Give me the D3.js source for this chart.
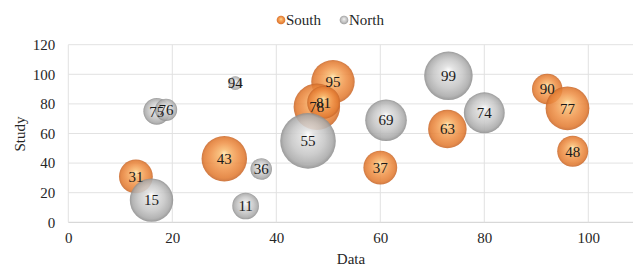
<!DOCTYPE html>
<html>
<head>
<meta charset="utf-8">
<script src="https://cdn.jsdelivr.net/npm/d3@7"></script>
<style>
  html, body { margin: 0; padding: 0; background: #fff; }
  svg { display: block; }
</style>
</head>
<body>
<script>
// ---- data ----
const seriesNames = ["South", "North"];
const southX = [13, 30, 50.9, 47.8, 49.1, 60, 72.9, 92.1, 96, 97];
const southY = [31, 43, 95, 78, 81, 37, 63, 90, 77, 48];
const southSize = [37, 67, 61, 70, 35, 37, 48, 30, 62, 31];
const northX = [17, 18.8, 32.1, 16, 37.1, 34.1, 46.1, 61.1, 73.1, 80];
const northY = [75, 76, 94, 15, 36, 11, 55, 69, 99, 74];
const northSize = [23, 16, 6, 61, 15, 23, 100, 56, 76, 54];
const xTicks = [0, 20, 40, 60, 80, 100];
const yTicks = [0, 20, 40, 60, 80, 100, 120];

const FONT = "'Liberation Serif', 'Times New Roman', serif";
const W = 633, H = 268;
const svg = d3.select("body").append("svg").attr("width", W).attr("height", H)
  .attr("font-family", FONT);

const x = d3.scaleLinear().domain([0, 110]).range([68.3, 640.3]);
const y = d3.scaleLinear().domain([0, 120]).range([222.3, 44.7]);
const r = d3.scaleSqrt().domain([0, 100]).range([0, 27.8]);

// gradients
const defs = svg.append("defs");
function grad(id, stops) {
  const g = defs.append("radialGradient").attr("id", id)
    .attr("cx", "50%").attr("cy", "50%").attr("r", "50%")
    .attr("fx", "50%").attr("fy", "38%");
  stops.forEach(s => g.append("stop").attr("offset", s[0]).attr("stop-color", s[1]));
}
grad("gSouth", [[0, "#ffe4aa"], [0.22, "#f8b86e"], [0.6, "#ef9249"], [0.88, "#e27c33"], [1, "#c8672a"]]);
grad("gNorth", [[0, "#fcfcfc"], [0.22, "#e0e0e0"], [0.6, "#c6c6c6"], [0.88, "#aaaaaa"], [1, "#8d8d8d"]]);

const clip = defs.append("clipPath").attr("id", "plotClip");
clip.append("rect").attr("x", x(0)).attr("y", 0).attr("width", W - x(0)).attr("height", y(0) + 1);

// grid
const grid = svg.append("g");
grid.selectAll(".gy").data(yTicks).join("line")
  .attr("x1", x(0)).attr("x2", W).attr("y1", d => y(d)).attr("y2", d => y(d))
  .attr("stroke", d => d === 0 ? "#cfcfcf" : "#e2e2e2").attr("stroke-width", 1);
grid.selectAll(".gx").data(xTicks).join("line")
  .attr("x1", d => x(d)).attr("x2", d => x(d)).attr("y1", y(120)).attr("y2", y(0))
  .attr("stroke", "#e2e2e2").attr("stroke-width", 1);

// axes labels via d3 axes
const xAxis = svg.append("g").attr("transform", `translate(0,${y(0)})`)
  .call(d3.axisBottom(x).tickValues(xTicks).tickSize(0).tickPadding(10));
const yAxis = svg.append("g").attr("transform", `translate(${x(0)},0)`)
  .call(d3.axisLeft(y).tickValues(yTicks).tickSize(0).tickPadding(13));
[xAxis, yAxis].forEach(a => {
  a.attr("font-family", FONT);
  a.select(".domain").remove();
  a.selectAll("text").attr("font-family", FONT).attr("font-size", 15).attr("fill", "#262626");
});

// axis titles
svg.append("text").attr("x", 351).attr("y", 264).attr("text-anchor", "middle")
  .attr("font-family", FONT).attr("font-size", 15).attr("fill", "#262626").text("Data");
svg.append("text").attr("transform", "translate(25,134) rotate(-90)").attr("text-anchor", "middle")
  .attr("font-family", FONT).attr("font-size", 15).attr("fill", "#262626").text("Study");

// bubbles
const south = southX.map((d, i) => ({ x: d, y: southY[i], s: southSize[i], fill: "url(#gSouth)" }));
const north = northX.map((d, i) => ({ x: d, y: northY[i], s: northSize[i], fill: "url(#gNorth)" }));
const all = south.concat(north);
const plot = svg.append("g").attr("clip-path", "url(#plotClip)");
plot.selectAll("circle").data(all).join("circle")
  .attr("cx", d => x(d.x)).attr("cy", d => y(d.y)).attr("r", d => r(d.s))
  .attr("fill", d => d.fill).attr("fill-opacity", 0.88);

plot.selectAll("text.lbl").data(all).join("text").attr("class", "lbl")
  .attr("x", d => x(d.x)).attr("y", d => y(d.y)).attr("dy", "0.35em")
  .attr("text-anchor", "middle").attr("font-family", FONT).attr("font-size", 15).attr("fill", "#1a1a1a")
  .text(d => d.y);

// legend
const leg = svg.append("g");
const legItems = [
  { name: seriesNames[0], fill: "url(#gSouth)", mx: 281, tx: 286 },
  { name: seriesNames[1], fill: "url(#gNorth)", mx: 344, tx: 349 }
];
legItems.forEach(it => {
  leg.append("circle").attr("cx", it.mx).attr("cy", 20).attr("r", 4.3).attr("fill", it.fill);
  leg.append("text").attr("x", it.tx).attr("y", 20).attr("dy", "0.35em")
    .attr("font-family", FONT).attr("font-size", 15).attr("fill", "#262626").text(it.name);
});
</script>
</body>
</html>
